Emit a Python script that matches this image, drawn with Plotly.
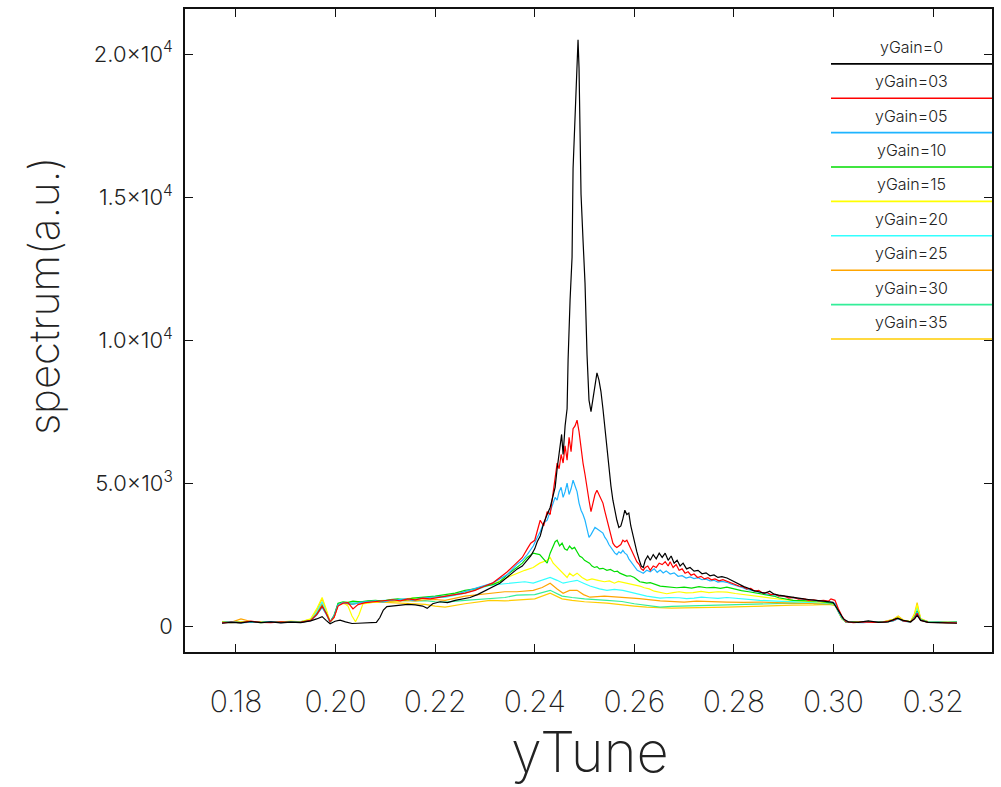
import plotly.graph_objects as go

# ---------------------------------------------------------------------------
# Tune spectra for several vertical feedback gains, (yTune, amplitude) pairs
# ---------------------------------------------------------------------------
gain_labels = ["yGain=0", "yGain=03", "yGain=05", "yGain=10", "yGain=15",
               "yGain=20", "yGain=25", "yGain=30", "yGain=35"]
gain_colors = ["#000000", "#ff0000", "#1eb4ff", "#00dd00", "#ffff00",
               "#33ffff", "#ffa500", "#33ee99", "#ffcc00"]

x_ticks = [0.18, 0.20, 0.22, 0.24, 0.26, 0.28, 0.30, 0.32]
x_tick_text = ["0.18", "0.20", "0.22", "0.24", "0.26", "0.28", "0.30", "0.32"]
y_ticks = [0, 5000, 10000, 15000, 20000]
y_tick_text = ["0", "5.0×10<sup>3</sup>", "1.0×10<sup>4</sup>",
               "1.5×10<sup>4</sup>", "2.0×10<sup>4</sup>"]

g00 = [(0.1772, 100), (0.1790, 130), (0.1810, 110), (0.1830, 160), (0.1850, 120),
       (0.1870, 150), (0.1890, 110), (0.1910, 140), (0.1930, 120), (0.1950, 180),
       (0.1962, 250), (0.1973, 330), (0.1981, 200), (0.1989, 80), (0.1999, 170),
       (0.2009, 210), (0.2020, 150), (0.2033, 90), (0.2045, 100), (0.2060, 110),
       (0.2075, 140), (0.2082, 130), (0.2089, 300), (0.2096, 560), (0.2103, 680),
       (0.2115, 700), (0.2130, 720), (0.2145, 760), (0.2160, 740), (0.2175, 700),
       (0.2184, 620), (0.2195, 780), (0.2210, 850), (0.2225, 820), (0.2240, 900),
       (0.2255, 950), (0.2270, 1000), (0.2285, 1100), (0.2300, 1230), (0.2315, 1350),
       (0.2330, 1500), (0.2344, 1700), (0.2355, 1850), (0.2365, 2000), (0.2375, 2100),
       (0.2385, 2300), (0.2392, 2450), (0.2400, 2700), (0.2405, 2950), (0.2411, 3150),
       (0.2418, 3600), (0.2425, 3900), (0.2431, 4150), (0.2436, 4500), (0.2441, 4850),
       (0.2445, 5500), (0.2448, 5900), (0.2451, 6300), (0.2454, 6700), (0.2457, 6000),
       (0.2461, 7000), (0.2465, 7600), (0.2467, 9300), (0.2471, 11400), (0.2475, 12900),
       (0.2477, 16000), (0.2481, 18000), (0.2485, 19600), (0.2487, 20500), (0.2489, 19500),
       (0.2491, 17500), (0.2493, 15100), (0.2497, 13500), (0.2501, 12000), (0.2505, 9500),
       (0.2509, 7900), (0.2513, 7500), (0.2517, 8000), (0.2521, 8400), (0.2525, 8850),
       (0.2529, 8600), (0.2533, 8200), (0.2537, 7600), (0.2541, 6900), (0.2545, 6100),
       (0.2549, 5500), (0.2553, 4900), (0.2557, 4400), (0.2561, 4000), (0.2565, 3700),
       (0.2569, 3450), (0.2573, 3500), (0.2577, 3750), (0.2581, 4050), (0.2585, 3900),
       (0.2589, 3950), (0.2593, 3500), (0.2597, 3200), (0.2601, 2850), (0.2605, 2600),
       (0.2610, 2300), (0.2614, 2100), (0.2618, 2050), (0.2622, 2300), (0.2627, 2450),
       (0.2632, 2300), (0.2638, 2500), (0.2644, 2350), (0.2650, 2550), (0.2656, 2400),
       (0.2662, 2550), (0.2668, 2300), (0.2674, 2450), (0.2680, 2200), (0.2686, 2300),
       (0.2692, 2100), (0.2698, 2200), (0.2705, 2000), (0.2712, 2050), (0.2720, 1920),
       (0.2728, 1950), (0.2736, 1830), (0.2744, 1860), (0.2752, 1760), (0.2760, 1790),
       (0.2768, 1700), (0.2776, 1730), (0.2786, 1680), (0.2795, 1600), (0.2805, 1500),
       (0.2812, 1450), (0.2820, 1380), (0.2828, 1330), (0.2838, 1250), (0.2850, 1200),
       (0.2862, 1150), (0.2872, 1220), (0.2880, 1120), (0.2890, 1080), (0.2900, 1050),
       (0.2910, 1020), (0.2919, 1000), (0.2930, 960), (0.2940, 950), (0.2950, 930),
       (0.2960, 920), (0.2970, 890), (0.2980, 870), (0.2990, 860), (0.2999, 830),
       (0.3006, 650), (0.3013, 450), (0.3020, 250), (0.3030, 150), (0.3050, 130),
       (0.3070, 180), (0.3090, 130), (0.3110, 150), (0.3128, 280), (0.3140, 200),
       (0.3155, 150), (0.3163, 250), (0.3168, 380), (0.3175, 200), (0.3190, 130),
       (0.3210, 120), (0.3230, 110), (0.3248, 100)]

g03 = [(0.1772, 110), (0.1790, 140), (0.1810, 120), (0.1830, 170), (0.1850, 130),
       (0.1870, 120), (0.1890, 150), (0.1910, 130), (0.1930, 140), (0.1950, 200),
       (0.1962, 400), (0.1973, 700), (0.1981, 450), (0.1989, 150), (0.1997, 300),
       (0.2005, 700), (0.2015, 800), (0.2025, 820), (0.2035, 600), (0.2045, 750),
       (0.2060, 820), (0.2075, 850), (0.2090, 880), (0.2103, 900), (0.2115, 920),
       (0.2130, 880), (0.2145, 950), (0.2160, 920), (0.2175, 980), (0.2190, 950),
       (0.2205, 1000), (0.2220, 1050), (0.2240, 1100), (0.2260, 1150), (0.2280, 1250),
       (0.2300, 1400), (0.2315, 1500), (0.2330, 1700), (0.2345, 1900), (0.2360, 2150),
       (0.2375, 2400), (0.2385, 2700), (0.2392, 2900), (0.2400, 3000), (0.2405, 3300),
       (0.2411, 3700), (0.2418, 3500), (0.2425, 4000), (0.2431, 3900), (0.2436, 4600),
       (0.2441, 5100), (0.2445, 5700), (0.2449, 5500), (0.2453, 6000), (0.2457, 5700),
       (0.2461, 6300), (0.2465, 5800), (0.2469, 6600), (0.2473, 6100), (0.2477, 6900),
       (0.2481, 7000), (0.2485, 7200), (0.2489, 6800), (0.2493, 6200), (0.2497, 5700),
       (0.2501, 5300), (0.2505, 4800), (0.2509, 4400), (0.2513, 4000), (0.2517, 4300),
       (0.2521, 4600), (0.2525, 4750), (0.2529, 4600), (0.2533, 4400), (0.2537, 4300),
       (0.2541, 4000), (0.2545, 3700), (0.2549, 3400), (0.2553, 3100), (0.2557, 2900),
       (0.2561, 2800), (0.2565, 2750), (0.2569, 2800), (0.2573, 2850), (0.2577, 3000),
       (0.2581, 2950), (0.2585, 3000), (0.2589, 2850), (0.2593, 2700), (0.2597, 2500),
       (0.2601, 2350), (0.2605, 2250), (0.2610, 2150), (0.2614, 2000), (0.2618, 1950),
       (0.2622, 2050), (0.2627, 2100), (0.2632, 1950), (0.2638, 2100), (0.2644, 2050),
       (0.2650, 2200), (0.2656, 2150), (0.2662, 2250), (0.2668, 2100), (0.2672, 2250),
       (0.2678, 2050), (0.2684, 2150), (0.2690, 1950), (0.2696, 2000), (0.2702, 1850),
       (0.2708, 1900), (0.2714, 1780), (0.2720, 1820), (0.2727, 1700), (0.2734, 1740),
       (0.2741, 1650), (0.2748, 1690), (0.2755, 1620), (0.2762, 1650), (0.2770, 1580),
       (0.2778, 1620), (0.2786, 1560), (0.2794, 1520), (0.2802, 1450), (0.2810, 1400),
       (0.2818, 1380), (0.2826, 1300), (0.2834, 1320), (0.2842, 1220), (0.2850, 1250),
       (0.2858, 1150), (0.2866, 1180), (0.2874, 1100), (0.2882, 1120), (0.2890, 1050),
       (0.2900, 1060), (0.2910, 980), (0.2920, 1000), (0.2930, 940), (0.2940, 960),
       (0.2950, 900), (0.2960, 920), (0.2970, 880), (0.2980, 900), (0.2990, 870),
       (0.2995, 950), (0.3003, 900), (0.3010, 600), (0.3017, 350), (0.3025, 150),
       (0.3040, 120), (0.3060, 150), (0.3080, 130), (0.3100, 140), (0.3120, 200),
       (0.3130, 280), (0.3140, 180), (0.3155, 150), (0.3163, 280), (0.3168, 450),
       (0.3175, 200), (0.3190, 130), (0.3210, 120), (0.3230, 130), (0.3248, 110)]

g05 = [(0.1772, 120), (0.1790, 150), (0.1810, 110), (0.1830, 140), (0.1850, 130),
       (0.1870, 160), (0.1890, 120), (0.1910, 150), (0.1930, 130), (0.1950, 190),
       (0.1962, 380), (0.1973, 650), (0.1981, 420), (0.1989, 140), (0.1997, 350),
       (0.2005, 750), (0.2015, 820), (0.2025, 800), (0.2035, 760), (0.2050, 830),
       (0.2065, 860), (0.2080, 880), (0.2095, 840), (0.2110, 900), (0.2125, 920),
       (0.2140, 950), (0.2155, 900), (0.2170, 970), (0.2185, 1000), (0.2200, 1020),
       (0.2220, 1050), (0.2240, 1100), (0.2260, 1200), (0.2280, 1300), (0.2300, 1400),
       (0.2315, 1500), (0.2330, 1650), (0.2345, 1800), (0.2364, 2150), (0.2375, 2300),
       (0.2385, 2500), (0.2397, 2800), (0.2405, 3100), (0.2411, 3300), (0.2418, 3600),
       (0.2425, 3700), (0.2431, 4000), (0.2437, 4300), (0.2441, 4500), (0.2445, 4400),
       (0.2449, 4700), (0.2453, 4850), (0.2457, 4500), (0.2461, 4700), (0.2465, 5000),
       (0.2469, 4600), (0.2473, 4800), (0.2477, 5100), (0.2481, 4900), (0.2485, 4700),
       (0.2489, 4300), (0.2493, 4050), (0.2497, 3900), (0.2501, 3700), (0.2505, 3400),
       (0.2509, 3100), (0.2513, 3200), (0.2517, 3350), (0.2521, 3450), (0.2525, 3400),
       (0.2529, 3350), (0.2533, 3300), (0.2537, 3250), (0.2541, 3100), (0.2545, 3000),
       (0.2549, 2850), (0.2553, 2750), (0.2557, 2650), (0.2561, 2550), (0.2565, 2500),
       (0.2569, 2600), (0.2573, 2550), (0.2577, 2650), (0.2581, 2550), (0.2585, 2500),
       (0.2589, 2350), (0.2593, 2250), (0.2597, 2150), (0.2601, 2050), (0.2606, 1950),
       (0.2612, 1900), (0.2618, 1850), (0.2625, 1950), (0.2632, 1900), (0.2640, 2000),
       (0.2646, 1880), (0.2652, 1960), (0.2658, 1860), (0.2664, 1930), (0.2672, 1820),
       (0.2680, 1860), (0.2688, 1740), (0.2696, 1760), (0.2704, 1680), (0.2712, 1720),
       (0.2720, 1660), (0.2728, 1690), (0.2736, 1620), (0.2744, 1640), (0.2752, 1580),
       (0.2760, 1600), (0.2768, 1540), (0.2776, 1560), (0.2786, 1530), (0.2794, 1470),
       (0.2802, 1430), (0.2810, 1380), (0.2818, 1340), (0.2826, 1280), (0.2834, 1260),
       (0.2842, 1210), (0.2852, 1190), (0.2862, 1130), (0.2870, 1110), (0.2880, 1070),
       (0.2890, 1050), (0.2905, 1000), (0.2919, 975), (0.2932, 940), (0.2945, 920),
       (0.2958, 900), (0.2970, 880), (0.2980, 870), (0.2990, 850), (0.3003, 800),
       (0.3010, 500), (0.3017, 300), (0.3025, 150), (0.3040, 130), (0.3060, 120),
       (0.3080, 150), (0.3100, 130), (0.3120, 180), (0.3130, 260), (0.3140, 170),
       (0.3155, 140), (0.3163, 300), (0.3168, 500), (0.3175, 220), (0.3190, 130),
       (0.3210, 140), (0.3230, 120), (0.3248, 130)]

g10 = [(0.1772, 130), (0.1790, 140), (0.1810, 120), (0.1830, 150), (0.1850, 120),
       (0.1870, 150), (0.1890, 130), (0.1910, 160), (0.1930, 140), (0.1950, 200),
       (0.1962, 400), (0.1973, 700), (0.1981, 450), (0.1989, 150), (0.1997, 380),
       (0.2005, 800), (0.2015, 850), (0.2025, 830), (0.2035, 870), (0.2050, 850),
       (0.2065, 880), (0.2080, 900), (0.2095, 870), (0.2110, 930), (0.2125, 950),
       (0.2140, 920), (0.2155, 980), (0.2170, 1000), (0.2185, 1020), (0.2200, 1050),
       (0.2220, 1100), (0.2240, 1150), (0.2260, 1250), (0.2280, 1300), (0.2300, 1400),
       (0.2315, 1450), (0.2330, 1550), (0.2345, 1800), (0.2364, 2050), (0.2375, 2200),
       (0.2385, 2400), (0.2397, 2550), (0.2410, 2500), (0.2420, 2300), (0.2425, 2200),
       (0.2431, 2550), (0.2437, 2800), (0.2441, 2950), (0.2445, 3000), (0.2450, 2800),
       (0.2455, 2900), (0.2460, 2700), (0.2465, 2650), (0.2470, 2800), (0.2475, 2700),
       (0.2480, 2750), (0.2485, 2600), (0.2490, 2450), (0.2495, 2400), (0.2500, 2300),
       (0.2505, 2250), (0.2510, 2200), (0.2515, 2100), (0.2520, 2050), (0.2525, 2080),
       (0.2530, 2000), (0.2537, 2020), (0.2545, 1950), (0.2552, 1980), (0.2560, 1900),
       (0.2566, 1920), (0.2571, 1850), (0.2578, 1800), (0.2585, 1750), (0.2592, 1760),
       (0.2600, 1700), (0.2606, 1620), (0.2611, 1550), (0.2618, 1530), (0.2625, 1500),
       (0.2632, 1520), (0.2638, 1480), (0.2645, 1440), (0.2652, 1400), (0.2662, 1380),
       (0.2672, 1360), (0.2685, 1340), (0.2700, 1360), (0.2715, 1330), (0.2730, 1380),
       (0.2745, 1340), (0.2760, 1350), (0.2773, 1320), (0.2786, 1360), (0.2800, 1300),
       (0.2815, 1240), (0.2830, 1200), (0.2840, 1170), (0.2852, 1150), (0.2866, 1100),
       (0.2880, 1050), (0.2890, 990), (0.2900, 950), (0.2919, 900), (0.2935, 890),
       (0.2950, 880), (0.2970, 870), (0.2990, 820), (0.3003, 780), (0.3010, 550),
       (0.3017, 300), (0.3025, 150), (0.3040, 130), (0.3060, 140), (0.3080, 160),
       (0.3100, 130), (0.3120, 190), (0.3130, 270), (0.3140, 180), (0.3155, 150),
       (0.3163, 320), (0.3168, 520), (0.3175, 230), (0.3190, 140), (0.3210, 130),
       (0.3230, 120), (0.3248, 140)]

g15 = [(0.1772, 140), (0.1790, 120), (0.1810, 150), (0.1830, 130), (0.1850, 160),
       (0.1870, 130), (0.1890, 140), (0.1910, 170), (0.1930, 150), (0.1950, 250),
       (0.1962, 600), (0.1973, 1000), (0.1981, 600), (0.1989, 150), (0.1997, 300),
       (0.2005, 750), (0.2015, 820), (0.2025, 700), (0.2033, 350), (0.2040, 150),
       (0.2047, 400), (0.2055, 780), (0.2065, 800), (0.2080, 850), (0.2095, 880),
       (0.2110, 900), (0.2125, 870), (0.2140, 950), (0.2155, 980), (0.2170, 940),
       (0.2185, 1000), (0.2200, 1030), (0.2220, 1050), (0.2250, 1150), (0.2290, 1350),
       (0.2320, 1500), (0.2345, 1700), (0.2364, 1850), (0.2380, 1950), (0.2397, 2050),
       (0.2410, 2200), (0.2425, 2300), (0.2431, 2400), (0.2437, 2200), (0.2445, 2050),
       (0.2455, 1900), (0.2465, 1700), (0.2470, 1850), (0.2477, 1750), (0.2485, 1850),
       (0.2495, 1700), (0.2505, 1600), (0.2515, 1650), (0.2527, 1600), (0.2540, 1550),
       (0.2550, 1580), (0.2560, 1500), (0.2568, 1560), (0.2577, 1530), (0.2586, 1480),
       (0.2595, 1450), (0.2603, 1420), (0.2611, 1400), (0.2620, 1340), (0.2630, 1300),
       (0.2640, 1220), (0.2652, 1180), (0.2665, 1130), (0.2678, 1170), (0.2690, 1200),
       (0.2704, 1160), (0.2718, 1170), (0.2734, 1210), (0.2750, 1170), (0.2768, 1200),
       (0.2786, 1190), (0.2803, 1140), (0.2820, 1100), (0.2836, 1060), (0.2852, 1010),
       (0.2868, 980), (0.2885, 950), (0.2900, 920), (0.2919, 900), (0.2940, 880),
       (0.2960, 860), (0.2975, 840), (0.2990, 820), (0.3003, 760), (0.3010, 500),
       (0.3017, 280), (0.3025, 150), (0.3040, 140), (0.3060, 150), (0.3080, 130),
       (0.3100, 150), (0.3120, 220), (0.3130, 330), (0.3140, 200), (0.3155, 160),
       (0.3163, 400), (0.3168, 750), (0.3175, 250), (0.3190, 140), (0.3210, 130),
       (0.3230, 140), (0.3248, 120)]

g20 = [(0.1772, 120), (0.1790, 160), (0.1810, 130), (0.1830, 150), (0.1850, 140),
       (0.1870, 130), (0.1890, 150), (0.1910, 140), (0.1930, 160), (0.1950, 230),
       (0.1962, 500), (0.1973, 850), (0.1981, 500), (0.1989, 130), (0.1997, 350),
       (0.2005, 780), (0.2015, 820), (0.2030, 800), (0.2045, 850), (0.2060, 870),
       (0.2080, 880), (0.2100, 900), (0.2120, 920), (0.2140, 950), (0.2160, 930),
       (0.2180, 980), (0.2200, 1000), (0.2220, 1000), (0.2260, 1150), (0.2310, 1430),
       (0.2340, 1480), (0.2364, 1530), (0.2380, 1550), (0.2397, 1500), (0.2415, 1600),
       (0.2431, 1700), (0.2445, 1600), (0.2457, 1500), (0.2470, 1550), (0.2485, 1600),
       (0.2498, 1500), (0.2511, 1400), (0.2530, 1300), (0.2545, 1250), (0.2560, 1280),
       (0.2577, 1250), (0.2600, 1150), (0.2625, 1050), (0.2652, 975), (0.2670, 1000),
       (0.2690, 990), (0.2705, 960), (0.2720, 975), (0.2735, 1010), (0.2750, 990),
       (0.2768, 970), (0.2786, 1000), (0.2805, 970), (0.2820, 950), (0.2852, 900),
       (0.2885, 870), (0.2919, 840), (0.2960, 820), (0.2990, 800), (0.3003, 750),
       (0.3010, 480), (0.3017, 270), (0.3025, 140), (0.3040, 150), (0.3060, 130),
       (0.3080, 140), (0.3100, 150), (0.3120, 210), (0.3130, 300), (0.3140, 190),
       (0.3155, 150), (0.3163, 350), (0.3168, 650), (0.3175, 230), (0.3190, 150),
       (0.3210, 120), (0.3230, 140), (0.3248, 130)]

g25 = [(0.1772, 150), (0.1790, 130), (0.1810, 250), (0.1830, 160), (0.1850, 140),
       (0.1870, 150), (0.1890, 130), (0.1910, 160), (0.1930, 150), (0.1950, 220),
       (0.1962, 480), (0.1973, 800), (0.1981, 480), (0.1989, 140), (0.1997, 320),
       (0.2005, 760), (0.2015, 800), (0.2030, 780), (0.2045, 820), (0.2060, 840),
       (0.2080, 860), (0.2100, 850), (0.2120, 880), (0.2140, 900), (0.2160, 880),
       (0.2180, 920), (0.2200, 930), (0.2220, 900), (0.2260, 1050), (0.2310, 1150),
       (0.2340, 1200), (0.2364, 1200), (0.2397, 1250), (0.2415, 1350), (0.2431, 1500),
       (0.2445, 1300), (0.2457, 1150), (0.2470, 1250), (0.2485, 1250), (0.2498, 1100),
       (0.2511, 1010), (0.2540, 1050), (0.2577, 1010), (0.2610, 960), (0.2652, 880),
       (0.2675, 860), (0.2700, 840), (0.2725, 870), (0.2750, 850), (0.2786, 840),
       (0.2820, 830), (0.2852, 840), (0.2885, 820), (0.2919, 800), (0.2960, 790),
       (0.2990, 780), (0.3003, 740), (0.3010, 470), (0.3017, 260), (0.3025, 140),
       (0.3040, 160), (0.3060, 150), (0.3080, 130), (0.3100, 140), (0.3120, 230),
       (0.3130, 320), (0.3140, 200), (0.3155, 150), (0.3163, 380), (0.3168, 700),
       (0.3175, 240), (0.3190, 160), (0.3210, 140), (0.3230, 150), (0.3248, 130)]

g30 = [(0.1772, 130), (0.1790, 150), (0.1810, 140), (0.1830, 130), (0.1850, 150),
       (0.1870, 140), (0.1890, 130), (0.1910, 150), (0.1930, 140), (0.1950, 210),
       (0.1962, 450), (0.1973, 750), (0.1981, 450), (0.1989, 140), (0.1997, 330),
       (0.2005, 770), (0.2015, 810), (0.2030, 800), (0.2045, 830), (0.2060, 850),
       (0.2080, 870), (0.2100, 860), (0.2120, 880), (0.2140, 900), (0.2160, 880),
       (0.2180, 890), (0.2200, 850), (0.2220, 840), (0.2260, 900), (0.2310, 970),
       (0.2340, 1000), (0.2364, 1080), (0.2400, 1100), (0.2431, 1250), (0.2455, 1050),
       (0.2475, 1000), (0.2500, 950), (0.2545, 900), (0.2575, 860), (0.2600, 780),
       (0.2625, 720), (0.2652, 660), (0.2675, 690), (0.2700, 700), (0.2725, 710),
       (0.2750, 720), (0.2786, 730), (0.2820, 750), (0.2850, 760), (0.2885, 780),
       (0.2919, 800), (0.2960, 790), (0.2990, 780), (0.3003, 740), (0.3010, 470),
       (0.3017, 260), (0.3025, 140), (0.3040, 140), (0.3060, 130), (0.3080, 150),
       (0.3100, 140), (0.3120, 200), (0.3130, 300), (0.3140, 190), (0.3155, 150),
       (0.3163, 330), (0.3168, 600), (0.3175, 220), (0.3190, 140), (0.3210, 150),
       (0.3230, 130), (0.3248, 140)]

g35 = [(0.1772, 140), (0.1790, 130), (0.1810, 160), (0.1830, 140), (0.1850, 130),
       (0.1870, 160), (0.1890, 140), (0.1910, 130), (0.1930, 150), (0.1950, 240),
       (0.1962, 550), (0.1973, 950), (0.1981, 550), (0.1989, 140), (0.1997, 300),
       (0.2005, 740), (0.2015, 790), (0.2030, 760), (0.2045, 800), (0.2060, 820),
       (0.2080, 840), (0.2100, 830), (0.2120, 810), (0.2140, 800), (0.2160, 780),
       (0.2180, 760), (0.2200, 700), (0.2220, 660), (0.2260, 780), (0.2310, 900),
       (0.2340, 880), (0.2364, 900), (0.2400, 950), (0.2431, 1150), (0.2455, 950),
       (0.2475, 900), (0.2500, 850), (0.2545, 800), (0.2575, 760), (0.2600, 700),
       (0.2625, 660), (0.2652, 630), (0.2675, 630), (0.2700, 640), (0.2725, 640),
       (0.2750, 650), (0.2786, 660), (0.2820, 680), (0.2850, 700), (0.2885, 710),
       (0.2919, 730), (0.2960, 740), (0.2990, 760), (0.3003, 720), (0.3010, 460),
       (0.3017, 250), (0.3025, 150), (0.3040, 150), (0.3060, 140), (0.3080, 160),
       (0.3100, 150), (0.3120, 240), (0.3130, 350), (0.3140, 210), (0.3155, 150),
       (0.3163, 450), (0.3168, 820), (0.3175, 260), (0.3190, 150), (0.3210, 130),
       (0.3230, 140), (0.3248, 130)]

spectra = [g00, g03, g05, g10, g15, g20, g25, g30, g35]

FONT = "Inter"
INK = "#222222"
W, H = 1001, 787
PL, PR, PT, PB = 185, 992, 7, 652   # plot-area edges in pixels


def px(xp):
    return (xp - PL) / (PR - PL)


def py(yp):
    return (PB - yp) / (PB - PT)


fig = go.Figure()
# high-gain curves first so the tall low-gain curves sit on top
for name, color, pts in reversed(list(zip(gain_labels, gain_colors, spectra))):
    xs = [p[0] for p in pts]
    ys = [p[1] for p in pts]
    fig.add_trace(go.Scatter(x=xs, y=ys, mode="lines", name=name,
                             line=dict(color=color, width=1.2),
                             showlegend=False))

# legend: label centred above a coloured rule, inside the upper-right corner
legend_top = 62
legend_step = 34.5
for i, (name, color) in enumerate(zip(gain_labels, gain_colors)):
    y_rule = legend_top + i * legend_step
    fig.add_shape(type="line", xref="paper", yref="paper",
                  x0=px(831), x1=1.0, y0=py(y_rule), y1=py(y_rule),
                  line=dict(color=color, width=1.6))
    fig.add_annotation(xref="paper", yref="paper", x=px(911),
                       y=py(y_rule - 17), text=name, showarrow=False,
                       font=dict(family=FONT, size=16, color=INK, weight=300),
                       xanchor="center", yanchor="middle")

# axis titles
fig.add_annotation(xref="paper", yref="paper", x=px(590), y=py(752),
                   text="yTune", showarrow=False,
                   font=dict(family=FONT, size=56, color=INK, weight=200),
                   xanchor="center", yanchor="middle")
fig.add_annotation(xref="paper", yref="paper", x=px(43), y=py(295),
                   text="spectrum(a.u.)", showarrow=False, textangle=-90,
                   font=dict(family=FONT, size=42, color=INK, weight=200),
                   xanchor="center", yanchor="middle")

axis_common = dict(showline=True, linecolor="#111111", linewidth=1.6,
                   mirror="allticks", ticks="inside", ticklen=8,
                   tickcolor="#111111", tickwidth=1.4, showgrid=False,
                   zeroline=False)

fig.update_xaxes(range=[0.16976, 0.33184], tickvals=x_ticks,
                 ticktext=x_tick_text, ticklabelstandoff=22,
                 tickfont=dict(family=FONT, size=30, color=INK, weight=200),
                 **axis_common)
fig.update_yaxes(range=[-906, 21574], tickvals=y_ticks, ticktext=y_tick_text,
                 ticklabelstandoff=6,
                 tickfont=dict(family=FONT, size=22, color=INK, weight=300),
                 **axis_common)

fig.update_layout(width=W, height=H,
                  margin=dict(l=PL, r=W - PR, t=PT, b=H - PB),
                  paper_bgcolor="white", plot_bgcolor="white")

fig.write_html("out.html")
